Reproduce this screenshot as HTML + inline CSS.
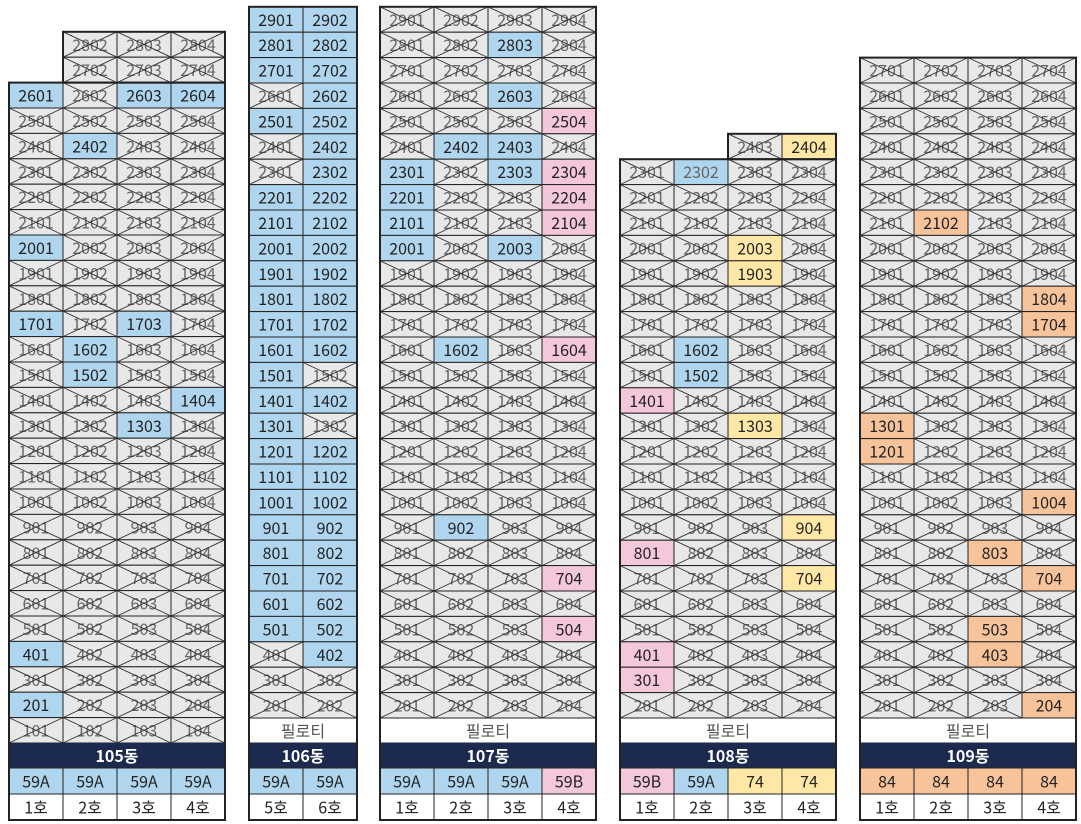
<!DOCTYPE html>
<html><head><meta charset="utf-8">
<style>
html,body{margin:0;padding:0;background:#fff;width:1081px;height:824px;overflow:hidden}
svg text{font-family:"Noto Sans CJK KR","Liberation Sans",sans-serif}
</style></head>
<body>
<svg id="s" width="1081" height="824" xmlns="http://www.w3.org/2000/svg"></svg>
<script>
const H=25.4,W=54;
const C={b:'#b0d6ef',p:'#f4c7db',y:'#ffe8a6',o:'#f7c39b'};
const B=[
 {n:'105',x:9,c:4,pil:false,top:26,extra:{27:[2,3,4],28:[2,3,4]},
  t:[['59A','b'],['59A','b'],['59A','b'],['59A','b']],ho:[1,2,3,4],
  h:{b:[2601,2603,2604,2402,2001,1701,1703,1602,1502,1404,1303,401,201]}},
 {n:'106',x:249,c:2,pil:true,top:29,extra:{},
  t:[['59A','b'],['59A','b']],ho:[5,6],all:'b',
  x_:[2601,2401,2301,1502,1302,401,301,302,201,202]},
 {n:'107',x:380,c:4,pil:true,top:29,extra:{},
  t:[['59A','b'],['59A','b'],['59A','b'],['59B','p']],ho:[1,2,3,4],
  h:{b:[2803,2603,2402,2403,2301,2303,2201,2101,2001,2003,1602,902],p:[2504,2304,2204,2104,1604,704,504]}},
 {n:'108',x:620,c:4,pil:true,top:23,extra:{24:[3,4]},
  t:[['59B','p'],['59A','b'],['74','y'],['74','y']],ho:[1,2,3,4],
  h:{b:[2302,1602,1502],p:[1401,801,401,301],y:[2404,2003,1903,1303,904,704]}},
 {n:'109',x:860,c:4,pil:true,top:27,extra:{},
  t:[['84','o'],['84','o'],['84','o'],['84','o']],ho:[1,2,3,4],
  h:{o:[2102,1804,1704,1301,1201,1004,803,704,503,403,204]}}
];
let o='';
const FS=16, TY=19;
function cell(x,y,num,col,txtcol){
  if(col){
    o+=`<rect x="${x}" y="${y}" width="${W}" height="${H}" fill="${col}" stroke="#222" stroke-width="1"/>`;
    o+=`<text x="${x+W/2}" y="${y+TY}" font-size="${FS}" text-anchor="middle" fill="${txtcol||'#222'}">${num}</text>`;
  }else{
    o+=`<rect x="${x}" y="${y}" width="${W}" height="${H}" fill="#e8e8e8" stroke="#222" stroke-width="1"/>`;
    o+=`<text x="${x+W/2}" y="${y+TY}" font-size="${FS}" text-anchor="middle" fill="#666">${num}</text>`;
    o+=`<line x1="${x}" y1="${y}" x2="${x+W}" y2="${y+H}" stroke="#333" stroke-width="0.9"/><line x1="${x}" y1="${y+H}" x2="${x+W}" y2="${y}" stroke="#333" stroke-width="0.9"/>`;
  }
}
B.forEach(b=>{
  const minF=b.pil?2:1;
  const yOf=f=>b.pil?718-(f-1)*H:743-f*H;
  const colOf=num=>{
    if(b.all){return b.x_.includes(num)?null:C[b.all];}
    for(const k in b.h){if(b.h[k].includes(num))return C[k];}
    return null;
  };
  const maxF=Math.max(b.top,...Object.keys(b.extra).map(Number));
  for(let f=maxF;f>=minF;f--){
    let cols=[];
    if(f<=b.top){for(let i=1;i<=b.c;i++)cols.push(i);}else cols=b.extra[f];
    cols.forEach(i=>{
      const num=f*100+i;
      const x=b.x+(i-1)*W;
      const col=colOf(num);
      cell(x,yOf(f),num,col,(b.n==='108'&&num===2302)?'#666':null);
    });
  }
  const w=b.c*W;
  if(b.pil){
    o+=`<rect x="${b.x}" y="718" width="${w}" height="25" fill="#fff" stroke="#222"/>`;
    o+=`<text x="${b.x+w/2}" y="737" font-size="${FS}" text-anchor="middle" fill="#555">필로티</text>`;
  }
  o+=`<rect x="${b.x}" y="743" width="${w}" height="25" fill="#1b2a4e"/>`;
  o+=`<text x="${b.x+w/2}" y="762" font-size="${FS}" font-weight="bold" text-anchor="middle" fill="#fff">${b.n}동</text>`;
  b.t.forEach((t,i)=>{
    const x=b.x+i*W;
    o+=`<rect x="${x}" y="768" width="${W}" height="26" fill="${C[t[1]]}" stroke="#222"/>`;
    o+=`<text x="${x+W/2}" y="787.5" font-size="${FS}" text-anchor="middle" fill="#222">${t[0]}</text>`;
    o+=`<rect x="${x}" y="794" width="${W}" height="26" fill="#fff" stroke="#222"/>`;
    o+=`<text x="${x+W/2}" y="813.5" font-size="${FS}" text-anchor="middle" fill="#222">${b.ho[i]}호</text>`;
  });
  const topY=yOf(b.top);
  o+=`<rect x="${b.x}" y="${topY}" width="${w}" height="${820-topY}" fill="none" stroke="#222" stroke-width="2"/>`;
  const ex=Object.keys(b.extra).map(Number);
  if(ex.length){
    const cols=b.extra[ex[0]];
    const ex0=b.x+(cols[0]-1)*W, ew=cols.length*W, ey=yOf(Math.max(...ex));
    o+=`<rect x="${ex0}" y="${ey}" width="${ew}" height="${topY-ey}" fill="none" stroke="#222" stroke-width="2"/>`;
  }
});
document.getElementById('s').innerHTML=o;
</script>
</body></html>
